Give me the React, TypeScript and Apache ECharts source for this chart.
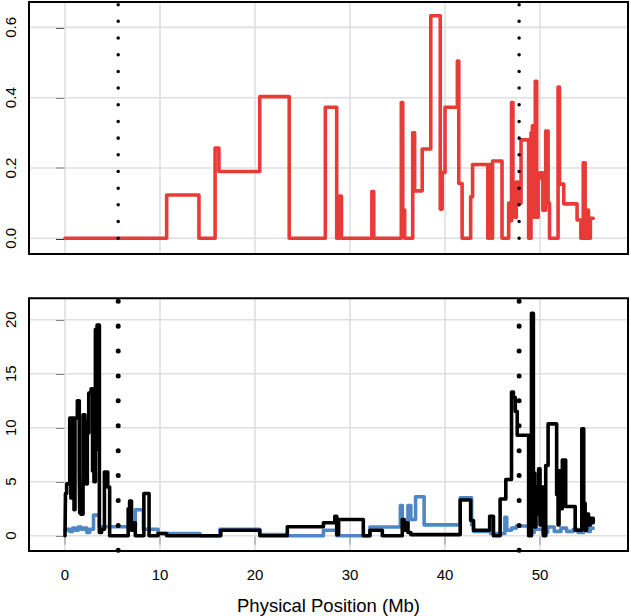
import React, { useEffect, useRef } from "react";
import * as echarts from "echarts";

// ---- data (x in Mb, value) ----
const xTicks = [0, 10, 20, 30, 40, 50];
const topYTicks = [0, 0.2, 0.4, 0.6];
const bottomYTicks = [0, 5, 10, 15, 20];
const markerPositions = [5.6, 47.8];

const redSteps = [
  [0, 0], [10.7, 0.123], [14.1, 0], [15.8, 0.257], [16.2, 0.19], [20.5, 0.403],
  [23.6, 0], [27.4, 0.373], [28.6, 0], [28.9, 0.12], [29.1, 0], [32.3, 0.133],
  [32.5, 0], [35.4, 0.386], [35.55, 0.08], [35.75, 0], [36.6, 0.3], [36.8, 0.135],
  [37.6, 0.254], [38.5, 0.633], [39.5, 0.083], [39.7, 0.187], [40.0, 0.373],
  [41.3, 0.504], [41.45, 0.156], [41.8, 0], [42.7, 0.118], [42.9, 0.21], [44.5, 0],
  [44.7, 0.21], [44.85, 0], [45.0, 0.22], [46.0, 0], [46.7, 0.1], [46.85, 0.05],
  [47.0, 0.386], [47.15, 0.1], [47.3, 0.06], [47.5, 0.16], [47.7, 0.1], [48.0, 0.28],
  [48.8, 0], [49.05, 0.3], [49.2, 0.32], [49.35, 0.06], [49.5, 0.447], [49.65, 0.06],
  [49.8, 0.17], [50.0, 0.186], [50.3, 0.08], [50.6, 0.305], [50.85, 0.1], [51.0, 0],
  [51.9, 0.43], [52.05, 0.154], [52.5, 0.098], [53.9, 0.052], [54.3, 0], [54.55, 0.215],
  [54.75, 0], [55.0, 0.08], [55.1, 0], [55.3, 0.057], [55.6, 0.057],
];

const blueSteps = [
  [0, 0.5], [0.2, 0.6], [0.5, 0.4], [0.8, 0.7], [1.1, 0.5], [1.4, 0.8], [1.7, 0.6],
  [2.0, 0.7], [2.3, 0.3], [2.6, 0.6], [3.0, 1.9], [3.6, 0.83], [7.4, 2.4], [8.25, 0.6],
  [9.8, 0.2], [14.2, 0], [16.3, 0.6], [20.5, 0.1], [23.4, 0], [27.2, 0.5], [28.6, 0],
  [32.1, 0.8], [35.3, 2.8], [35.5, 0.9], [36.1, 2.8], [36.4, 1.5], [36.9, 3.6],
  [37.8, 1.0], [41.6, 3.5], [42.8, 1.0], [43.0, 0.4], [44.8, 0.2], [46.3, 1.7],
  [46.5, 0.5], [47.0, 0.7], [47.5, 0.9], [48.9, 0.3], [49.4, 2.4], [49.6, 0.6],
  [50.3, 0.3], [50.8, 0.8], [51.5, 0.4], [52.2, 0.7], [52.8, 0.4], [53.5, 0.6],
  [54.0, 0.3], [54.6, 0.8], [55.0, 0.4], [55.3, 0.7], [55.6, 0.7],
];

const blackSteps = [
  [0, 0], [0.05, 3.9], [0.18, 4.8], [0.5, 10.9], [0.62, 3.5], [0.7, 10.9], [0.95, 2.4],
  [1.05, 10.9], [1.3, 12.5], [1.5, 5.9], [1.55, 2.1], [1.65, 2.0], [1.9, 11.2],
  [2.1, 10.6], [2.2, 4.8], [2.35, 9.5], [2.5, 13.2], [2.75, 13.6], [2.9, 6.0],
  [3.05, 5.0], [3.2, 19.1], [3.3, 8.0], [3.38, 19.5], [3.62, 0.3], [3.85, 0.6],
  [4.15, 5.9], [4.5, 4.5], [4.7, 0], [6.65, 2.5], [6.8, 3.2], [7.0, 0.5], [7.1, 1.2],
  [7.4, 0], [8.3, 3.9], [8.85, 0], [9.8, 0.2], [10.7, 0], [16.4, 0.5], [20.5, 0],
  [23.4, 0.83], [27.2, 1.2], [28.4, 1.8], [28.6, 0.1], [28.8, 1.5], [31.4, 0],
  [32.1, 0.5], [33.4, 0], [35.5, 1.5], [35.7, 0.5], [35.9, 1.2], [36.1, 0.3],
  [36.4, 0.1], [41.6, 3.3], [42.7, 1.4], [43.0, 0.5], [44.7, 1.8], [45.1, 0],
  [45.8, 3.4], [46.4, 5.2], [47.0, 13.3], [47.2, 12.8], [47.4, 11.5], [47.6, 9.3],
  [48.8, 0], [49.1, 20.6], [49.3, 5.8], [49.45, 0.8], [49.55, 4.5], [49.7, 2.0],
  [49.85, 6.2], [50.0, 1.0], [50.2, 4.5], [50.35, 0], [50.6, 6.5], [50.85, 10.35],
  [51.75, 3.8], [51.9, 1.0], [52.0, 6.0], [52.2, 2.5], [52.35, 7.0], [52.7, 2.7],
  [53.7, 0.5], [54.4, 9.9], [54.6, 3.0], [54.75, 0.5], [54.9, 2.0], [55.1, 1.0],
  [55.3, 1.6], [55.6, 1.2],
];

const X_MIN = -3.789;
const X_MAX = 59.26;
const TOP_MIN = -0.0447;
const TOP_MAX = 0.6723;
const BOT_MIN = -1.417;
const BOT_MAX = 21.98;

const FONT = "'Liberation Sans', Arial, Helvetica, sans-serif";
const GRID_COLOR = "#dedee4";
const RED = "#e83a36";
const BLUE = "#4f86c6";

function gridSeries(gi: number, ymin: number, ymax: number, yTicks: number[]) {
  const out: any[] = [];
  xTicks.forEach((v) => {
    out.push({
      type: "line", xAxisIndex: gi, yAxisIndex: gi, silent: true, symbol: "none", z: 1,
      data: [[v, ymin], [v, ymax]],
      lineStyle: { color: GRID_COLOR, width: 1.6 },
    });
  });
  yTicks.forEach((v) => {
    out.push({
      type: "line", xAxisIndex: gi, yAxisIndex: gi, silent: true, symbol: "none", z: 1,
      data: [[X_MIN, v], [X_MAX, v]],
      lineStyle: { color: GRID_COLOR, width: 1.6 },
    });
  });
  return out;
}

function dotSeries(gi: number, ymin: number, ymax: number, width: number, gap: number, start: number) {
  return markerPositions.map((p) => ({
    type: "line", xAxisIndex: gi, yAxisIndex: gi, silent: true, symbol: "none", z: 4,
    data: [[p, ymax], [p, ymin]],
    lineStyle: { color: "#000", width, type: [0.01, gap], cap: "round", dashOffset: gap - start },
  }));
}

export default function App() {
  const ref = useRef<HTMLDivElement>(null);
  useEffect(() => {
    if (!ref.current) return;
    const chart = echarts.init(ref.current, undefined, { renderer: "svg" });
    const baseX = {
      type: "value", min: X_MIN, max: X_MAX,
      axisLine: { show: false }, splitLine: { show: false },
    };
    const tickStyle = { color: "#000", width: 1.6 };
    const option: any = {
      animation: false,
      textStyle: { fontFamily: FONT },
      grid: [
        { left: 29, top: 2, width: 599, height: 252, show: true, borderColor: "#000", borderWidth: 2, backgroundColor: "transparent", z: 5 },
        { left: 29, top: 298.3, width: 599, height: 252.7, show: true, borderColor: "#000", borderWidth: 2, backgroundColor: "transparent", z: 5 },
      ],
      xAxis: [
        { ...baseX, gridIndex: 0, axisTick: { show: false }, axisLabel: { show: false } },
        {
          ...baseX, gridIndex: 1,
          axisTick: { show: true, customValues: xTicks, length: 9, lineStyle: tickStyle },
          axisLabel: { show: true, customValues: xTicks, fontSize: 15, color: "#000", margin: 16, fontFamily: FONT },
          name: "Physical Position (Mb)", nameLocation: "middle", nameGap: 45,
          nameTextStyle: { fontSize: 18.5, color: "#000", fontFamily: FONT },
        },
      ],
      yAxis: [
        {
          type: "value", gridIndex: 0, min: TOP_MIN, max: TOP_MAX,
          axisLine: { show: false }, splitLine: { show: false },
          axisTick: { show: true, customValues: topYTicks, length: 9, lineStyle: tickStyle },
          axisLabel: { show: true, customValues: topYTicks, rotate: 90, margin: 11, fontSize: 15, color: "#000", fontFamily: FONT, formatter: (v: number) => v.toFixed(1) },
        },
        {
          type: "value", gridIndex: 1, min: BOT_MIN, max: BOT_MAX,
          axisLine: { show: false }, splitLine: { show: false },
          axisTick: { show: true, customValues: bottomYTicks, length: 9, lineStyle: tickStyle },
          axisLabel: { show: true, customValues: bottomYTicks, rotate: 90, margin: 11, fontSize: 15, color: "#000", fontFamily: FONT, formatter: (v: number) => String(Math.round(v)) },
        },
      ],
      series: [
        ...gridSeries(0, TOP_MIN, TOP_MAX, topYTicks),
        ...gridSeries(1, BOT_MIN, BOT_MAX, bottomYTicks),
        {
          type: "line", xAxisIndex: 0, yAxisIndex: 0, step: "end", symbol: "none", z: 3,
          data: redSteps, lineStyle: { color: RED, width: 3.6, cap: "round", join: "round" },
        },
        {
          type: "line", xAxisIndex: 1, yAxisIndex: 1, step: "end", symbol: "none", z: 3,
          data: blueSteps, lineStyle: { color: BLUE, width: 3.6, cap: "round", join: "round" },
        },
        {
          type: "line", xAxisIndex: 1, yAxisIndex: 1, step: "end", symbol: "none", z: 3,
          data: blackSteps, lineStyle: { color: "#000", width: 3.6, cap: "round", join: "round" },
        },
        ...dotSeries(0, TOP_MIN, TOP_MAX, 3.5, 16.67, 2.3),
        ...dotSeries(1, BOT_MIN, BOT_MAX, 5, 24.9, 3.4),
      ],
    };
    chart.setOption(option);
    return () => chart.dispose();
  }, []);
  return (
    <div
      ref={ref}
      style={{ position: "absolute", left: 0, top: 0, width: 631, height: 616, background: "#fff" }}
    />
  );
}
